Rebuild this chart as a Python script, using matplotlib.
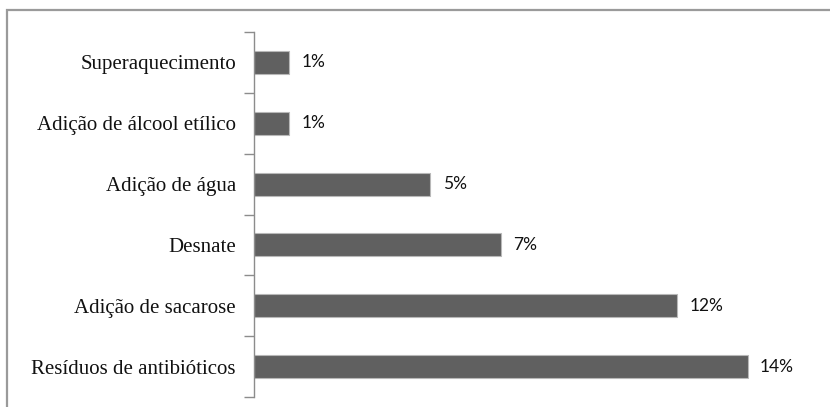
import matplotlib
matplotlib.use("Agg")
import matplotlib.pyplot as plt
from matplotlib.patches import Rectangle

categories = ["Resíduos de antibióticos", "Adição de sacarose", "Desnate",
              "Adição de água", "Adição de álcool etílico", "Superaquecimento"]
values = [14, 12, 7, 5, 1, 1]
value_labels = ["14%", "12%", "7%", "5%", "1%", "1%"]

W, H = 830, 407
fig = plt.figure(figsize=(W / 100, H / 100), dpi=100)
fig.patch.set_facecolor("white")

# outer frame
fig.add_artist(Rectangle((7 / W, -0.2), 1.5, (H - 10) / H + 0.2,
                         transform=fig.transFigure, fill=False,
                         edgecolor="#9a9a9a", linewidth=1.6))

ax_left, ax_right = 254, 820
ax_top, ax_bot = 32, 397
ax = fig.add_axes([ax_left / W, (H - ax_bot) / H,
                   (ax_right - ax_left) / W, (ax_bot - ax_top) / H])

ypos = list(range(len(categories)))
ax.barh(ypos, values, height=0.38, color="#606060",
        edgecolor="#b8b8b8", linewidth=0.8)

ax.set_xlim(0, (ax_right - ax_left) / 35.25)
ax.set_ylim(-0.5, len(categories) - 0.5)

ax.set_yticks(ypos)
ax.set_yticklabels(categories, fontfamily="Liberation Serif", fontsize=15,
                   color="#111111")
ax.tick_params(axis="y", which="major", length=0, pad=13)
ax.set_yticks([i - 0.5 for i in range(len(categories) + 1)], minor=True)
ax.tick_params(axis="y", which="minor", length=7, width=1, color="#8c8c8c")
ax.set_xticks([])

for s in ["top", "right", "bottom"]:
    ax.spines[s].set_visible(False)
ax.spines["left"].set_color("#8c8c8c")
ax.spines["left"].set_linewidth(1)

for y, v, lab in zip(ypos, values, value_labels):
    ax.annotate(lab, (v, y), xytext=(9, 0), textcoords="offset points",
                va="center", ha="left", fontsize=12.5,
                fontfamily="Lato", color="#111111")

fig.savefig("out.png", dpi=100, facecolor="white")
